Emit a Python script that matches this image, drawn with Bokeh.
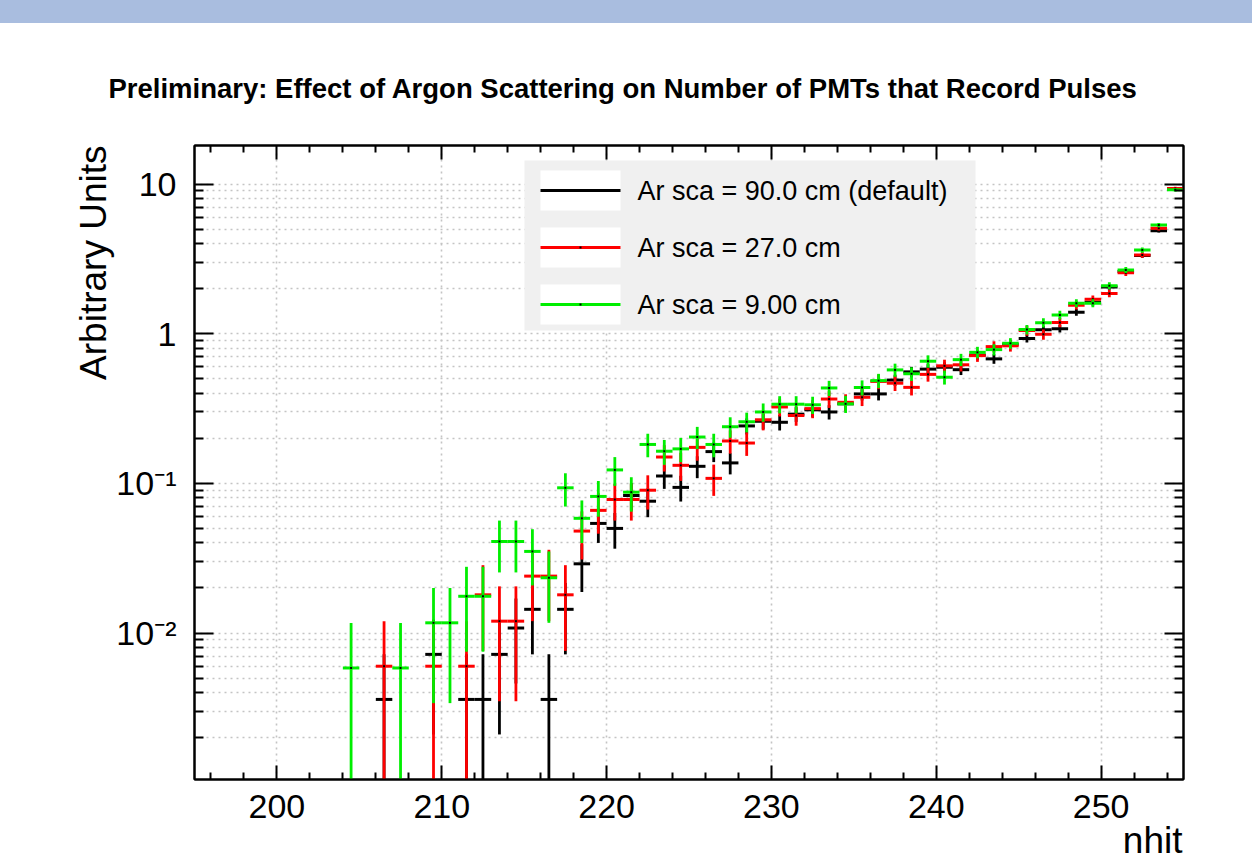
import math
from bokeh.plotting import figure
from bokeh.layouts import column
from bokeh.models import (FixedTicker, LinearAxis, LogAxis, Label, BoxAnnotation,
                          Range1d, Div, Title)
from bokeh.embed import file_html
from bokeh.resources import INLINE

# ---------------- data ----------------
nhit = [204.5, 205.5, 206.5, 207.5, 208.5, 209.5, 210.5, 211.5, 212.5, 213.5,
        214.5, 215.5, 216.5, 217.5, 218.5, 219.5, 220.5, 221.5, 222.5, 223.5,
        224.5, 225.5, 226.5, 227.5, 228.5, 229.5, 230.5, 231.5, 232.5, 233.5,
        234.5, 235.5, 236.5, 237.5, 238.5, 239.5, 240.5, 241.5, 242.5, 243.5,
        244.5, 245.5, 246.5, 247.5, 248.5, 249.5, 250.5, 251.5, 252.5, 253.5,
        254.5]
bin_half_width = 0.5

sca90_val = [None, None, 0.0036, None, None, 0.0072, None, 0.0036, 0.0036, 0.0072,
             0.0108, 0.0144, 0.0036, 0.0144, 0.029, 0.054, 0.050, 0.083, 0.076, 0.112,
             0.094, 0.130, 0.163, 0.137, 0.242, 0.26, 0.256, 0.29, 0.31, 0.30,
             0.34, 0.396, 0.396, 0.49, 0.556, 0.58, 0.597, 0.575, 0.72, 0.679,
             0.85, 0.93, 1.064, 1.08, 1.39, 1.62, 2.05, 2.60, 3.33, 4.88,
             9.3]
sca90_err = [None, None, 0.0036, None, None, 0.0051, None, 0.0036, 0.0036, 0.0051,
             0.0062, 0.0072, 0.0036, 0.0072, 0.0102, 0.0140, 0.0134, 0.0173, 0.0166, 0.0201,
             0.0184, 0.0217, 0.0243, 0.0222, 0.0296, 0.0306, 0.0304, 0.0324, 0.0335, 0.0329,
             0.0350, 0.0378, 0.0378, 0.0421, 0.0448, 0.0458, 0.0464, 0.0456, 0.0510, 0.0495,
             0.0554, 0.0579, 0.0620, 0.0624, 0.0708, 0.0765, 0.0860, 0.0969, 0.1096, 0.1327,
             0.1832]

sca27_val = [None, None, 0.006, None, None, 0.006, None, 0.006, 0.018, 0.012,
             0.012, 0.024, 0.024, 0.018, 0.048, 0.066, 0.078, 0.078, 0.090, 0.150,
             0.132, 0.174, 0.108, 0.192, 0.186, 0.266, 0.324, 0.284, 0.316, 0.366,
             0.348, 0.376, 0.48, 0.467, 0.438, 0.535, 0.61, 0.62, 0.714, 0.82,
             0.83, 1.05, 0.99, 1.19, 1.55, 1.70, 1.86, 2.55, 3.36, 5.06,
             9.35]
sca27_err = [None, None, 0.006, None, None, 0.006, None, 0.006, 0.0104, 0.0085,
             0.0085, 0.012, 0.012, 0.0104, 0.017, 0.0199, 0.0216, 0.0216, 0.0232, 0.030,
             0.0281, 0.0323, 0.0255, 0.0339, 0.0334, 0.040, 0.0441, 0.0413, 0.0435, 0.0469,
             0.0457, 0.0475, 0.0537, 0.0529, 0.0513, 0.0567, 0.0605, 0.0610, 0.0655, 0.0701,
             0.0706, 0.0794, 0.0771, 0.0845, 0.0964, 0.101, 0.1056, 0.1237, 0.142, 0.1742,
             0.2369]

sca9_val = [0.00584, None, None, 0.00584, None, 0.0117, 0.0117, 0.0176, 0.0176, 0.0409,
            0.0409, 0.0351, 0.0234, 0.0934, 0.0584, 0.0818, 0.123, 0.0873, 0.182, 0.164,
            0.170, 0.204, 0.182, 0.239, 0.258, 0.300, 0.338, 0.338, 0.335, 0.434,
            0.340, 0.437, 0.486, 0.573, 0.54, 0.655, 0.512, 0.671, 0.751, 0.783,
            0.863, 1.065, 1.185, 1.335, 1.60, 1.60, 2.094, 2.67, 3.62, 5.32,
            9.15]
sca9_err = [0.00584, None, None, 0.00584, None, 0.0083, 0.0083, 0.0101, 0.0101, 0.0155,
            0.0155, 0.0143, 0.0117, 0.0234, 0.0185, 0.0219, 0.0268, 0.0226, 0.0326, 0.0310,
            0.0315, 0.0345, 0.0326, 0.0374, 0.0388, 0.0419, 0.0444, 0.0444, 0.0442, 0.0503,
            0.0446, 0.0505, 0.0533, 0.0578, 0.0562, 0.0618, 0.0547, 0.0626, 0.0662, 0.0676,
            0.0710, 0.0789, 0.0832, 0.0883, 0.0967, 0.0967, 0.1106, 0.1249, 0.1454, 0.1763,
            0.2312]

series_labels = ["Ar sca = 90.0 cm (default)", "Ar sca = 27.0 cm", "Ar sca = 9.00 cm"]
series_colors = ["#000000", "#ff0000", "#00ee00"]

x_major = [200, 210, 220, 230, 240, 250]
x_minor = [196, 198, 202, 204, 206, 208, 212, 214, 216, 218, 222, 224, 226, 228,
           232, 234, 236, 238, 242, 244, 246, 248, 252, 254]
y_major = [0.01, 0.1, 1, 10]
y_major_labels = {0.01: "10\u207b\u00b2", 0.1: "10\u207b\u00b9", 1: "1", 10: "10"}
y_minor = [0.002, 0.003, 0.004, 0.005, 0.006, 0.007, 0.008, 0.009,
           0.02, 0.03, 0.04, 0.05, 0.06, 0.07, 0.08, 0.09,
           0.2, 0.3, 0.4, 0.5, 0.6, 0.7, 0.8, 0.9,
           2, 3, 4, 5, 6, 7, 8, 9]

title_text = "Preliminary: Effect of Argon Scattering on Number of PMTs that Record Pulses"
x_label = "nhit"
y_label = "Arbitrary Units"

FONT = "Liberation Sans"

# ---------------- figure ----------------
W = 1252
BAND = 23
H = 864 - BAND
FL, FR = 194, 1183
FT, FB = 145 - BAND, 779 - BAND      # frame edges inside the figure

p = figure(width=W, height=H, x_range=Range1d(195, 255), y_range=Range1d(0.00105, 18.1),
           y_axis_type="log", output_backend="svg", toolbar_location=None,
           min_border_left=FL, min_border_right=W - FR, min_border_top=FT,
           min_border_bottom=H - FB)
p.background_fill_color = "white"
p.border_fill_color = "white"
p.outline_line_color = "black"
p.outline_line_width = 2

p.title.text = title_text
p.title.align = "left"
p.title.offset = 108 - FL
p.title.standoff = 84
p.title.text_font = FONT
p.title.text_font_style = "bold"
p.title.text_font_size = "27.5px"
p.title.text_color = "black"

xt = FixedTicker(ticks=x_major, minor_ticks=x_minor)
yt = FixedTicker(ticks=y_major, minor_ticks=y_minor)

def style_axis(ax, major_in, minor_in, labels=True):
    ax.axis_line_color = "black"
    ax.axis_line_width = 2
    ax.major_tick_line_color = "black"
    ax.major_tick_line_width = 2
    ax.minor_tick_line_color = "black"
    ax.minor_tick_line_width = 2
    ax.major_tick_in = major_in
    ax.major_tick_out = 0
    ax.minor_tick_in = minor_in
    ax.minor_tick_out = 0
    ax.major_label_text_font = FONT
    ax.major_label_text_font_size = "34px"
    ax.major_label_text_color = "black"
    if not labels:
        ax.major_label_text_alpha = 0
        ax.major_label_text_font_size = "1px"
        ax.major_label_standoff = 0

bx = p.xaxis[0]
bx.ticker = xt
style_axis(bx, 14, 7)
bx.major_label_standoff = 15
# label anchored at the right end of the axis; trailing no-break spaces keep the
# visible word ending at the frame edge, as in the reference
bx.axis_label = x_label + "\u00a0" * 6
bx.axis_label_align = "end"
bx.axis_label_standoff = -1
bx.axis_label_text_font = FONT
bx.axis_label_text_font_style = "normal"
bx.axis_label_text_font_size = "37px"
bx.axis_label_text_color = "black"

ly = p.yaxis[0]
ly.ticker = yt
style_axis(ly, 19, 9)
ly.major_label_standoff = 18
ly.major_label_overrides = y_major_labels

ytitle = Title(text=y_label, align="right", offset=0, standoff=0, text_font=FONT,
               text_font_style="normal", text_font_size="37px", text_color="black")
p.add_layout(ytitle, "left")

tx = LinearAxis(ticker=xt)
style_axis(tx, 14, 7, labels=False)
p.add_layout(tx, "above")

ry = LogAxis(ticker=yt)
style_axis(ry, 19, 9, labels=False)
p.add_layout(ry, "right")

# grids (dotted)
p.xgrid.ticker = xt
p.ygrid.ticker = yt
for g in (p.xgrid, p.ygrid):
    g.grid_line_color = "#c4c4c4"
    g.grid_line_dash = "2 4"
    g.grid_line_width = 1.6
p.ygrid.minor_grid_line_color = "#c4c4c4"
p.ygrid.minor_grid_line_dash = "2 4"
p.ygrid.minor_grid_line_width = 1.6

# ---------------- data marks ----------------
y_floor = 1e-6
all_series = [(sca90_val, sca90_err), (sca27_val, sca27_err), (sca9_val, sca9_err)]
for k, (vals, errs) in enumerate(all_series):
    hx0, hx1, hy, vx, vy0, vy1 = [], [], [], [], [], []
    for xc, v, e in zip(nhit, vals, errs):
        if v is None:
            continue
        hx0.append(xc - bin_half_width)
        hx1.append(xc + bin_half_width)
        hy.append(v)
        vx.append(xc)
        vy0.append(max(v - e, y_floor))
        vy1.append(v + e)
    col = series_colors[k]
    p.segment(x0=hx0, x1=hx1, y0=hy, y1=hy, line_color=col, line_width=3)
    p.segment(x0=vx, x1=vx, y0=vy0, y1=vy1, line_color=col, line_width=2.8)
    if k > 0:
        p.scatter(x=vx, y=hy, marker="square", size=2, fill_color="black",
                  line_color=None)

# ---------------- legend (built from annotations, frame-relative) ----------------
def sy(ypix):
    return FB - (ypix - BAND)

def box(l, r, t, b, color):
    p.add_layout(BoxAnnotation(left=l - FL, right=r - FL, top=sy(t), bottom=sy(b),
                               left_units="screen", right_units="screen",
                               top_units="screen", bottom_units="screen",
                               fill_color=color, fill_alpha=1, line_color=None))

box(524, 975, 160, 330, "#f0f0f0")
entry_y = [190, 247, 304]
for k, yy in enumerate(entry_y):
    box(540, 620, yy - 20, yy + 20, "white")
    box(540, 620, yy - 1.5, yy + 1.5, series_colors[k])
    if k > 0:
        box(579, 581, yy - 1, yy + 1, "black")
    p.add_layout(Label(x=637 - FL, y=sy(yy), x_units="screen", y_units="screen",
                       text=series_labels[k], text_align="left", text_baseline="middle",
                       text_font=FONT, text_font_size="27px", text_color="black"))

band = Div(text="", width=W, height=BAND, margin=0,
           styles={"background-color": "#a9bddf"})
layout = column(band, p, spacing=0, margin=0)

open("out.html", "w").write(file_html(layout, INLINE))
